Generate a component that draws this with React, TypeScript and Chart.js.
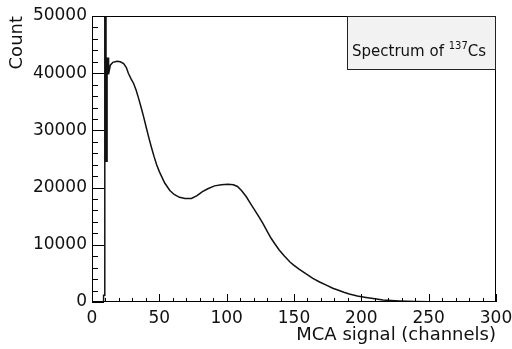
import React, { useEffect, useRef } from "react";
import { Chart, registerables } from "chart.js";

Chart.register(...registerables);

// Histogram outline of the 137Cs spectrum (channel, count)
const channels = [
  8.6, 8.6, 9.5, 9.5, 10.4, 10.4, 11.2, 11.2, 12.3, 12.3,
  13.6, 15.5, 18.6, 21, 23.5, 25.5, 27, 29, 30.9, 32.8,
  34.6, 36.5, 38.3, 40.2, 42, 44, 46, 48, 50, 54,
  57.8, 61, 65, 69, 73.8, 78, 82, 86, 91, 96,
  101, 105, 108, 111, 114.6, 117.5, 120.7, 124, 127, 130,
  133, 136, 139, 143, 147, 150, 154, 159, 164, 169,
  174, 178.8, 182.5, 187, 191, 197, 203.5, 210, 216, 222,
  228, 234, 240, 250, 260, 270, 280, 290, 300,
];
const counts = [
  0, 1200, 1200, 56000, 56000, 24600, 24600, 42600, 42600, 39800,
  41400, 41900, 42100, 42000, 41700, 41000, 40000, 39000, 38200, 37000,
  35600, 34000, 32400, 30600, 28900, 27150, 25500, 24000, 22800, 20800,
  19500, 18800, 18300, 18100, 18100, 18600, 19300, 19800, 20300, 20500,
  20600, 20500, 20200, 19500, 18400, 17300, 16100, 14900, 13700, 12400,
  11140, 10100, 9100, 8000, 7000, 6400, 5700, 4900, 4140, 3500,
  2950, 2400, 2100, 1700, 1400, 1050, 800, 550, 350, 250,
  175, 120, 90, 60, 40, 25, 15, 10, 5,
];

const xRange = [0, 300];
const yRange = [0, 50000];
const xMajor = 50;
const xMinor = 10;
const yMajor = 10000;
const yMinor = 2000;

const xTitle = "MCA signal (channels)";
const yTitle = "Count";
const legendMain = "Spectrum of ";
const legendSup = "137";
const legendTail = "Cs";

const FONT = "'DejaVu Sans', 'Liberation Sans', sans-serif";

const framePlugin = {
  id: "rootFrame",
  afterDatasetsDraw(chart: any) {
    const { ctx, chartArea: a, scales } = chart;
    const xs = scales.x;
    const ys = scales.y;
    ctx.save();
    ctx.strokeStyle = "#000";
    ctx.lineWidth = 1;
    ctx.beginPath();
    for (let v = yRange[0]; v <= yRange[1]; v += yMinor) {
      const py = Math.round(ys.getPixelForValue(v)) + 0.5;
      const len = v % yMajor === 0 ? 12 : 6;
      ctx.moveTo(a.left, py);
      ctx.lineTo(a.left + len, py);
    }
    for (let v = xRange[0]; v <= xRange[1]; v += xMinor) {
      const px = Math.round(xs.getPixelForValue(v)) + 0.5;
      const len = v % xMajor === 0 ? 8 : 4;
      ctx.moveTo(px, a.bottom);
      ctx.lineTo(px, a.bottom - len);
    }
    ctx.stroke();
    ctx.strokeRect(Math.round(a.left) + 0.5, Math.round(a.top) + 0.5, Math.round(a.width) - 1, Math.round(a.height) - 1);

    // legend box
    const bw = 149;
    const bh = 54;
    const bx = Math.round(a.right) - bw;
    const by = Math.round(a.top);
    ctx.fillStyle = "#f2f2f2";
    ctx.fillRect(bx, by, bw, bh);
    ctx.strokeStyle = "#222";
    ctx.strokeRect(bx + 0.5, by + 0.5, bw - 1, bh - 1);
    ctx.fillStyle = "#111";
    ctx.textBaseline = "alphabetic";
    ctx.textAlign = "left";
    ctx.font = `15px ${FONT}`;
    let tx = bx + 5;
    const base = by + 40;
    ctx.fillText(legendMain, tx, base);
    tx += ctx.measureText(legendMain).width;
    ctx.font = `10px ${FONT}`;
    ctx.fillText(legendSup, tx, base - 7);
    tx += ctx.measureText(legendSup).width;
    ctx.font = `15px ${FONT}`;
    ctx.fillText(legendTail, tx, base);
    ctx.restore();
  },
};

const plain = (v: any) => String(v);

export default function App() {
  const ref = useRef<HTMLCanvasElement | null>(null);

  useEffect(() => {
    document.body.style.margin = "0";
    const canvas = ref.current;
    if (!canvas) return;
    const points = channels.map((c, i) => ({ x: c, y: counts[i] }));
    const chart = new Chart(canvas, {
      type: "line",
      data: {
        datasets: [
          {
            data: points,
            borderColor: "#111",
            borderWidth: 1.5,
            pointRadius: 0,
            tension: 0,
            fill: false,
          },
        ],
      },
      options: {
        animation: false,
        responsive: false,
        devicePixelRatio: 1,
        layout: { padding: { top: 16, right: 16, left: 0, bottom: 0 } },
        plugins: { legend: { display: false }, tooltip: { enabled: false } },
        scales: {
          x: {
            type: "linear",
            min: xRange[0],
            max: xRange[1],
            grid: { display: false, drawTicks: false },
            border: { display: false },
            ticks: {
              stepSize: xMajor,
              padding: 6,
              color: "#111",
              font: { family: FONT, size: 17 },
              maxRotation: 0,
              autoSkip: false,
              callback: plain,
            },
            title: {
              display: true,
              text: xTitle,
              align: "end",
              color: "#111",
              font: { family: FONT, size: 18 },
              padding: { top: 0, bottom: 3 },
            },
            afterFit: (s: any) => {
              s.height = 47;
              s.paddingLeft = 0;
              s.paddingRight = 0;
            },
          },
          y: {
            type: "linear",
            min: yRange[0],
            max: yRange[1],
            grid: { display: false, drawTicks: false },
            border: { display: false },
            ticks: {
              stepSize: yMajor,
              padding: 5,
              color: "#111",
              font: { family: FONT, size: 17 },
              autoSkip: false,
              callback: plain,
            },
            title: {
              display: true,
              text: yTitle,
              align: "end",
              color: "#111",
              font: { family: FONT, size: 18 },
              padding: { top: 7, bottom: 0 },
            },
            afterFit: (s: any) => {
              s.width = 92;
              s.paddingTop = 0;
              s.paddingBottom = 0;
            },
          },
        },
      },
      plugins: [framePlugin],
    });
    return () => chart.destroy();
  }, []);

  return (
    <div style={{ position: "relative", width: 512, height: 349, background: "#fff" }}>
      <canvas ref={ref} width={512} height={349} />
    </div>
  );
}
